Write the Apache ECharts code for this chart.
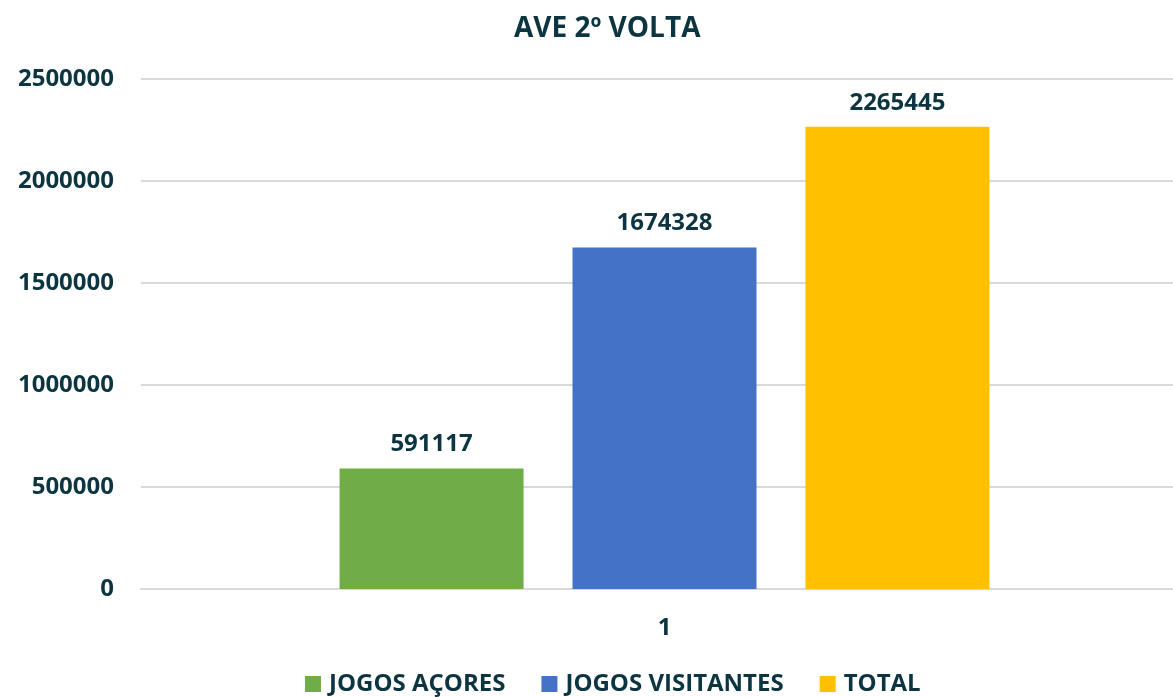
<!DOCTYPE html>
<html>
<head>
<meta charset="utf-8">
<script src="https://cdn.jsdelivr.net/npm/echarts@6/dist/echarts.min.js"></script>
<style>
  html, body { margin: 0; padding: 0; background: #fff; overflow: hidden; }
  #chart { width: 1188px; height: 697px; }
</style>
</head>
<body>
<div id="chart"></div>
<script>
// dados
var categories = ['1'];
var seriesNames = ['JOGOS AÇORES', 'JOGOS VISITANTES', 'TOTAL'];
var jogosAcores = [591117];
var jogosVisitantes = [1674328];
var total = [2265445];
var colors = ['#70AD47', '#4472C4', '#FFC000'];

var textColor = '#0D3541';
var fontFam = '"Open Sans", "Noto Sans", sans-serif';

// a área do gráfico passa um pouco da margem direita (como no original)
var chart = echarts.init(document.getElementById('chart'));

function barSeries(name, data, color) {
    return {
        name: name,
        type: 'bar',
        data: data,
        barWidth: 184,
        barGap: '26.6%',
        itemStyle: { color: color },
        label: {
            show: true,
            position: 'top',
            distance: 12,
            color: textColor,
            fontFamily: fontFam,
            fontWeight: 'bold',
            fontSize: 24
        }
    };
}

var option = {
    animation: false,
    title: {
        text: 'AVE 2º VOLTA',
        left: 509,
        top: 10,
        textStyle: { color: textColor, fontFamily: fontFam, fontWeight: 'bold', fontSize: 28 }
    },
    legend: {
        data: seriesNames,
        bottom: -4,
        left: 300,
        itemWidth: 16,
        itemHeight: 16,
        itemGap: 36,
        icon: 'rect',
        textStyle: { color: textColor, fontFamily: fontFam, fontWeight: 'bold', fontSize: 24, padding: [0, 0, 0, 3] }
    },
    grid: { left: 141, right: 0, top: 79, bottom: 108 },
    xAxis: {
        type: 'category',
        data: categories,
        axisLine: { lineStyle: { color: '#D9D9D9', width: 2 } },
        axisTick: { show: false },
        axisLabel: {
            color: textColor, fontFamily: fontFam, fontWeight: 'bold', fontSize: 24, margin: 27
        }
    },
    yAxis: {
        type: 'value',
        min: 0,
        max: 2500000,
        interval: 500000,
        axisLine: { show: false },
        axisTick: { show: false },
        splitLine: { lineStyle: { color: '#D9D9D9', width: 2 } },
        axisLabel: {
            color: textColor, fontFamily: fontFam, fontWeight: 'bold', fontSize: 24, margin: 27,
            formatter: function (v) { return String(v); }
        }
    },
    series: [
        barSeries(seriesNames[0], jogosAcores, colors[0]),
        barSeries(seriesNames[1], jogosVisitantes, colors[1]),
        barSeries(seriesNames[2], total, colors[2])
    ]
};
chart.setOption(option);
</script>
</body>
</html>
